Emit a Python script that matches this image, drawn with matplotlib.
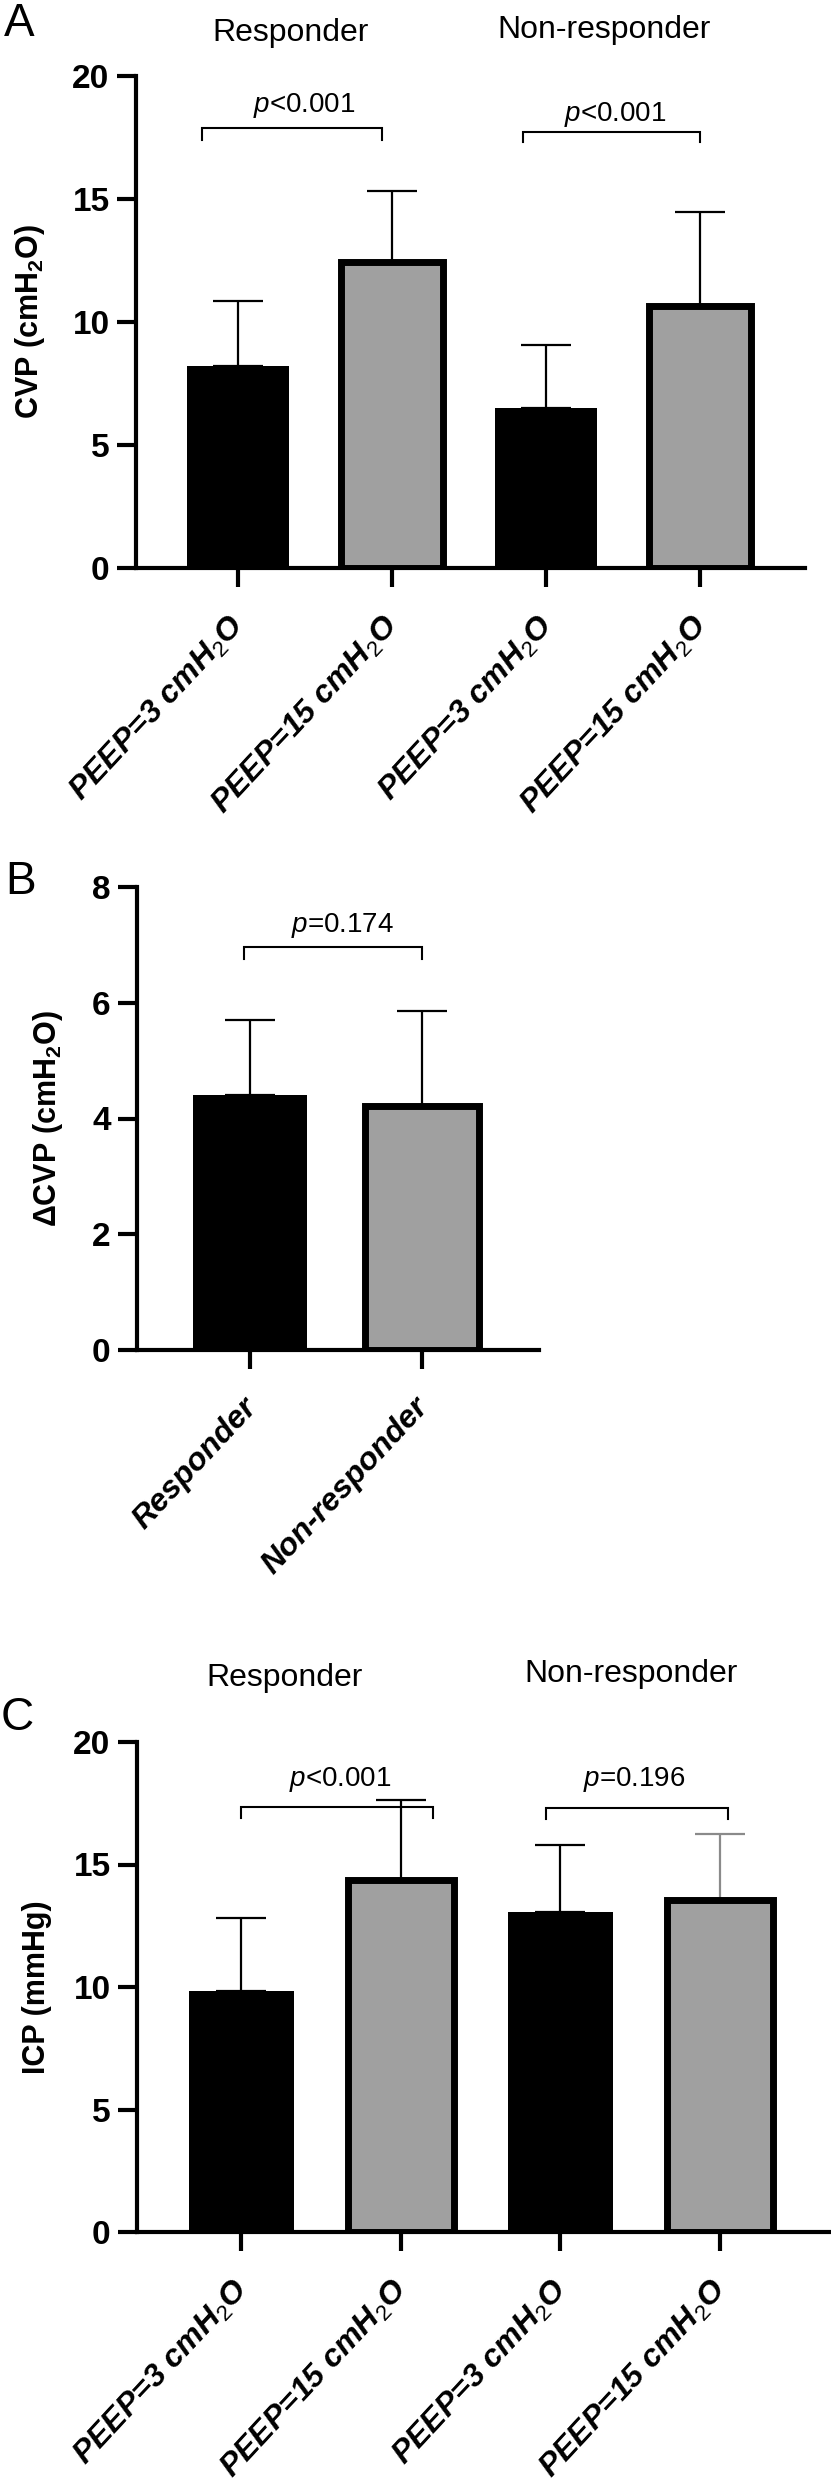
import numpy as np
import matplotlib
matplotlib.use('Agg')
import matplotlib.pyplot as plt
from matplotlib.transforms import ScaledTranslation

plt.rcParams['font.family'] = ['Liberation Sans', 'DejaVu Sans']
plt.rcParams['mathtext.fontset'] = 'custom'
plt.rcParams['mathtext.rm'] = 'Liberation Sans'
plt.rcParams['mathtext.it'] = 'Liberation Sans:italic'
plt.rcParams['mathtext.bf'] = 'Liberation Sans:bold'

# ---------------- data ----------------
peep_labels = [r'PEEP=3 cmH$_\mathrm{2}$O', r'PEEP=15 cmH$_\mathrm{2}$O',
               r'PEEP=3 cmH$_\mathrm{2}$O', r'PEEP=15 cmH$_\mathrm{2}$O']
group_labels = ['Responder', 'Non-responder']

cvp_mean = [8.2, 12.45, 6.5, 10.65]
cvp_sd = [2.65, 2.86, 2.58, 3.84]

dcvp_mean = [4.4, 4.22]
dcvp_sd = [1.31, 1.63]

icp_mean = [9.84, 14.35, 13.05, 13.55]
icp_sd = [2.96, 3.3, 2.75, 2.7]

p_cvp = ['$p$<0.001', '$p$<0.001']
p_dcvp = ['$p$=0.174']
p_icp = ['$p$<0.001', '$p$=0.196']

GRAY = '#a0a0a0'
fills4 = ['black', GRAY, 'black', GRAY]
fills2 = ['black', GRAY]

W, H = 831, 2481
fig = plt.figure(figsize=(W / 100, H / 100), dpi=100)


def add_ax(left, right, top, bottom):
    return fig.add_axes([left / W, 1 - bottom / H, (right - left) / W, (bottom - top) / H])


def style(ax, ylim, yticks, xlim, labels, ylabel, ylab_x):
    ax.set_xlim(*xlim)
    ax.set_ylim(*ylim)
    ax.set_yticks(yticks)
    for s in ['top', 'right']:
        ax.spines[s].set_visible(False)
    for s in ['left', 'bottom']:
        ax.spines[s].set_linewidth(3)
    ax.tick_params(axis='both', width=3, length=14)
    ax.tick_params(axis='y', labelsize=24, pad=5)
    for t in ax.get_yticklabels():
        t.set_fontweight('bold')
    ax.set_xticks(np.arange(len(labels)))
    ax.set_xticklabels(labels, rotation=47, ha='right', va='center',
                       rotation_mode='anchor', fontsize=23,
                       fontweight='bold', fontstyle='italic')
    ax.tick_params(axis='x', pad=24)
    off = ScaledTranslation(2 / 100, 0, fig.dpi_scale_trans)
    for t in ax.get_xticklabels():
        t.set_transform(t.get_transform() + off)
    ax.set_ylabel(ylabel, fontsize=22, fontweight='bold')
    ax.yaxis.set_label_coords(ylab_x, 0.5)


def bars(ax, means, sds, fills, ecolors):
    x = np.arange(len(means))
    for i in range(len(means)):
        ax.errorbar(x[i], means[i], yerr=[[0], [sds[i]]], fmt='none',
                    ecolor=ecolors[i], elinewidth=1.6, capsize=18,
                    capthick=1.6, zorder=1)
        if fills[i] == 'black':
            ax.bar(x[i], means[i], 0.66, color='black', linewidth=0, zorder=2)
        else:
            ax.bar(x[i], means[i], 0.66, color=fills[i], edgecolor='black',
                   linewidth=5, zorder=2)


def bracket(ax, x1, x2, y, tip, text, tx, ty):
    ax.plot([x1, x1, x2, x2], [tip, y, y, tip], color='black', lw=1.5,
            clip_on=False, solid_joinstyle='miter', zorder=3)
    ax.text(tx, ty, text, ha='center', va='center', fontsize=20, clip_on=False)


# ---------------- Panel A ----------------
axA = add_ax(136, 805, 76, 568)
bars(axA, cvp_mean, cvp_sd, fills4, ['black'] * 4)
style(axA, (0, 20), [0, 5, 10, 15, 20], (-0.66, 3.68), peep_labels,
      r'CVP (cmH$_\mathbf{2}$O)', -0.133)
bracket(axA, -0.23, 0.935, 17.9, 17.4, p_cvp[0], 0.43, 18.8)
bracket(axA, 1.85, 3.0, 17.74, 17.3, p_cvp[1], 2.45, 18.45)

fig.text(19 / W, 1 - 24 / H, 'A', fontsize=33, ha='center', va='center')
fig.text(291 / W, 1 - 33 / H, group_labels[0], fontsize=23, ha='center', va='center')
fig.text(604 / W, 1 - 30 / H, group_labels[1], fontsize=23, ha='center', va='center')

# ---------------- Panel B ----------------
axB = add_ax(137, 539, 887, 1350)
bars(axB, dcvp_mean, dcvp_sd, fills2, ['black'] * 2)
style(axB, (0, 8), [0, 2, 4, 6, 8], (-0.657, 1.68), group_labels,
      r'ΔCVP (cmH$_\mathbf{2}$O)', -0.178)
bracket(axB, -0.035, 1.0, 6.97, 6.76, p_dcvp[0], 0.535, 7.33)
fig.text(21 / W, 1 - 882 / H, 'B', fontsize=33, ha='center', va='center')

# ---------------- Panel C ----------------
axC = add_ax(137, 830, 1742, 2232)
bars(axC, icp_mean, icp_sd, fills4, ['black', 'black', 'black', '#8a8a8a'])
style(axC, (0, 20), [0, 5, 10, 15, 20], (-0.655, 3.69), peep_labels,
      'ICP (mmHg)', -0.123)
bracket(axC, 0.0, 1.2, 17.35, 16.9, p_icp[0], 0.62, 18.45)
bracket(axC, 1.91, 3.05, 17.3, 16.85, p_icp[1], 2.46, 18.45)
fig.text(17 / W, 1 - 1718 / H, 'C', fontsize=33, ha='center', va='center')
fig.text(285 / W, 1 - 1678 / H, group_labels[0], fontsize=23, ha='center', va='center')
fig.text(631 / W, 1 - 1674 / H, group_labels[1], fontsize=23, ha='center', va='center')

fig.savefig('out.png', dpi=100)
